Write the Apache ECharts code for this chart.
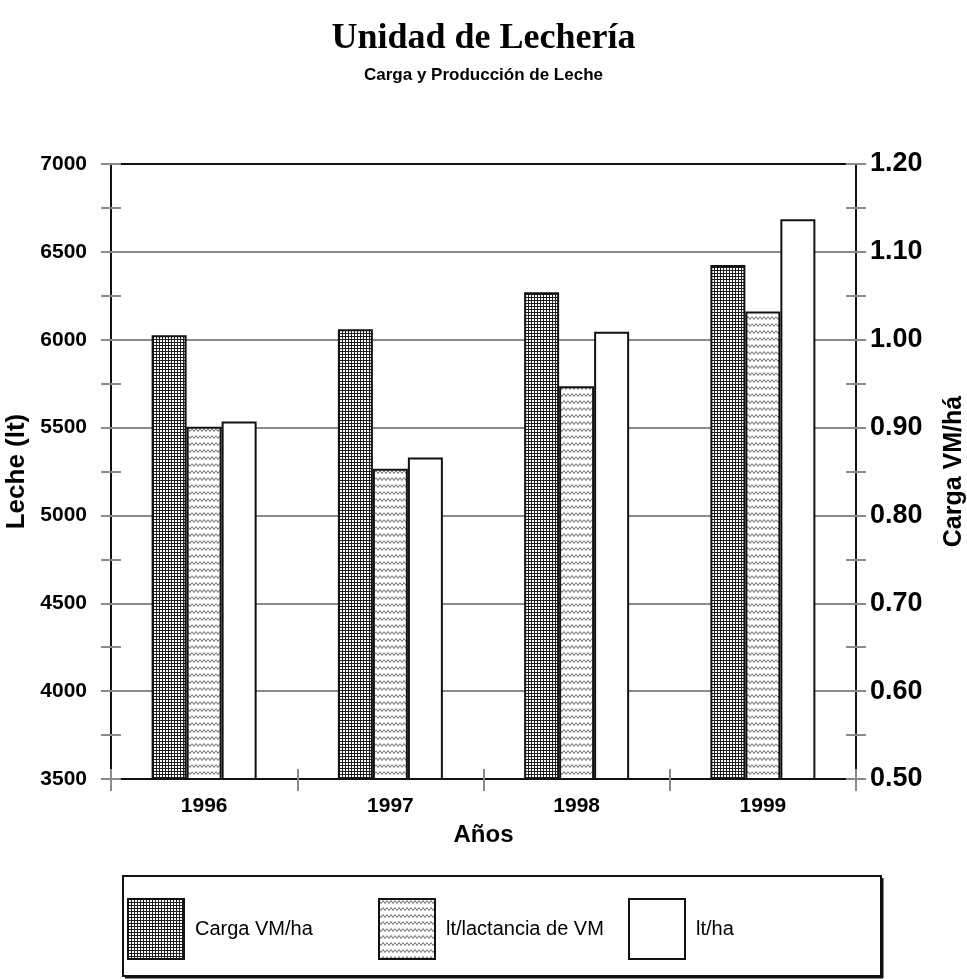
<!DOCTYPE html>
<html>
<head>
<meta charset="utf-8">
<title>Unidad de Lechería</title>
<script src="https://cdn.jsdelivr.net/npm/echarts@6/dist/echarts.min.js"></script>
<style>
  html, body { margin: 0; padding: 0; background: #fff; overflow: hidden; }
  #chart { width: 967px; height: 979px; }
</style>
</head>
<body>
<div id="chart"></div>
<script type="text/javascript">
// datos
var years = ['1996', '1997', '1998', '1999'];
var cargaVM = [1.005, 1.012, 1.054, 1.085];        // eje derecho
var ltLactancia = [5505, 5265, 5735, 6160];         // eje izquierdo
var ltHa = [5535, 5330, 6045, 6685];                // eje izquierdo
var seriesNames = ['Carga VM/ha', 'lt/lactancia de VM', 'lt/ha'];

var FONT = 'Liberation Sans, Arial, sans-serif';

// trama cuadriculada
function hatchPattern() {
  var c = document.createElement('canvas');
  c.width = 3; c.height = 3;
  var g = c.getContext('2d');
  g.fillStyle = '#fff';
  g.fillRect(0, 0, 3, 3);
  g.fillStyle = '#1e1e1e';
  g.fillRect(0, 0, 3, 1);
  g.fillRect(0, 0, 1, 3);
  return c;
}
// trama ondulada
function wavePattern() {
  var c = document.createElement('canvas');
  c.width = 8; c.height = 7;
  var g = c.getContext('2d');
  g.fillStyle = '#fff';
  g.fillRect(0, 0, 8, 7);
  g.strokeStyle = '#6a6a6a';
  g.lineWidth = 1;
  g.beginPath();
  g.moveTo(0, 1.5); g.lineTo(2, 4.5); g.lineTo(4, 1.5); g.lineTo(6, 4.5); g.lineTo(8, 1.5);
  g.stroke();
  return c;
}

var myChart = echarts.init(document.getElementById('chart'));

var tickStyle = { color: '#8a8a8a', width: 2 };

function yAxisBase(pos, min, max, interval) {
  return {
    type: 'value', position: pos, min: min, max: max, interval: interval,
    axisLine: { show: true, lineStyle: { color: '#111', width: 2 } },
    axisTick: { show: true, length: 10, lineStyle: tickStyle },
    minorTick: { show: true, splitNumber: 2, length: 10, lineStyle: tickStyle },
    splitLine: { show: false }
  };
}

var yLeft = yAxisBase('left', 3500, 7000, 500);
yLeft.name = 'Leche (lt)';
yLeft.nameLocation = 'middle';
yLeft.nameGap = 74;
yLeft.nameTextStyle = { fontFamily: FONT, fontWeight: 'bold', fontSize: 26, color: '#000' };
yLeft.axisLabel = { fontFamily: FONT, fontWeight: 'bold', fontSize: 21, color: '#000', margin: 24,
  formatter: function (v) { return String(v); } };
yLeft.splitLine = { show: true, showMaxLine: false, showMinLine: false, lineStyle: { color: '#8a8a8a', width: 2 } };

var yRight = yAxisBase('right', 0.5, 1.2, 0.1);
yRight.name = 'Carga VM/há';
yRight.nameLocation = 'middle';
yRight.nameGap = 86;
yRight.nameTextStyle = { fontFamily: FONT, fontWeight: 'bold', fontSize: 25, color: '#000' };
yRight.axisLabel = { fontFamily: FONT, fontWeight: 'bold', fontSize: 27, color: '#000', margin: 14,
  formatter: function (v) { return v.toFixed(2); } };

// ejes duplicados solo para las marcas hacia adentro
var yLeftIn = yAxisBase('left', 3500, 7000, 500);
yLeftIn.axisTick.inside = true;
yLeftIn.axisLabel = { show: false };
yLeftIn.axisLine = { show: false };
var yRightIn = yAxisBase('right', 0.5, 1.2, 0.1);
yRightIn.axisTick.inside = true;
yRightIn.axisLabel = { show: false };
yRightIn.axisLine = { show: false };

var option = {
  backgroundColor: '#fff',
  animation: false,
  title: [{
    text: 'Unidad de Lechería', left: 'center', top: 16,
    textStyle: { fontFamily: 'Liberation Serif, Times New Roman, serif', fontWeight: 'bold', fontSize: 36, color: '#000' }
  }, {
    text: 'Carga y Producción de Leche', left: 'center', top: 62,
    textStyle: { fontFamily: FONT, fontWeight: 'bold', fontSize: 17, color: '#000' }
  }],
  grid: {
    left: 111, right: 111, top: 164, bottom: 200, outerBoundsMode: 'none', containLabel: false,
    show: true, borderColor: '#111', borderWidth: 2
  },
  legend: [
    { data: [seriesNames[0]], left: 127, top: 898 },
    { data: [seriesNames[1]], left: 378, top: 898 },
    { data: [seriesNames[2]], left: 628, top: 898 }
  ].map(function (l) {
    l.itemWidth = 56; l.itemHeight = 60; l.icon = 'rect'; l.selectedMode = false; l.padding = 0;
    l.textStyle = { fontFamily: FONT, fontSize: 20, color: '#000', padding: [0, 0, 0, 6] };
    return l;
  }),
  xAxis: [{
    type: 'category', data: years, position: 'bottom',
    name: 'Años', nameLocation: 'middle', nameGap: 44,
    nameTextStyle: { fontFamily: FONT, fontWeight: 'bold', fontSize: 24, color: '#000' },
    axisLine: { lineStyle: { color: '#111', width: 2 } },
    axisTick: { show: true, length: 12, lineStyle: tickStyle },
    axisLabel: { fontFamily: FONT, fontWeight: 'bold', fontSize: 21, color: '#000', margin: 17 }
  }, {
    type: 'category', data: years, position: 'bottom',
    axisLine: { show: false },
    axisTick: { show: true, inside: true, length: 10, lineStyle: tickStyle },
    axisLabel: { show: false }
  }],
  yAxis: [yLeft, yRight, yLeftIn, yRightIn],
  graphic: [
    { type: 'rect', z: 0, shape: { x: 123, y: 876, width: 758, height: 100 },
      style: { fill: '#fff', stroke: '#111', lineWidth: 2 } },
    { type: 'line', z: 0, shape: { x1: 882, y1: 878, x2: 882, y2: 978 }, style: { stroke: '#111', lineWidth: 3 } },
    { type: 'line', z: 0, shape: { x1: 125, y1: 977, x2: 883, y2: 977 }, style: { stroke: '#111', lineWidth: 3 } }
  ],
  series: [{
    name: seriesNames[0], type: 'bar', yAxisIndex: 1, data: cargaVM,
    barWidth: 35, barGap: '0%',
    itemStyle: { color: { image: hatchPattern(), repeat: 'repeat' }, borderColor: '#111', borderWidth: 2 }
  }, {
    name: seriesNames[1], type: 'bar', yAxisIndex: 0, data: ltLactancia,
    barWidth: 35, barGap: '0%',
    itemStyle: { color: { image: wavePattern(), repeat: 'repeat' }, borderColor: '#111', borderWidth: 2 }
  }, {
    name: seriesNames[2], type: 'bar', yAxisIndex: 0, data: ltHa,
    barWidth: 35, barGap: '0%',
    itemStyle: { color: '#fff', borderColor: '#111', borderWidth: 2 }
  }]
};

myChart.setOption(option);
</script>
</body>
</html>
